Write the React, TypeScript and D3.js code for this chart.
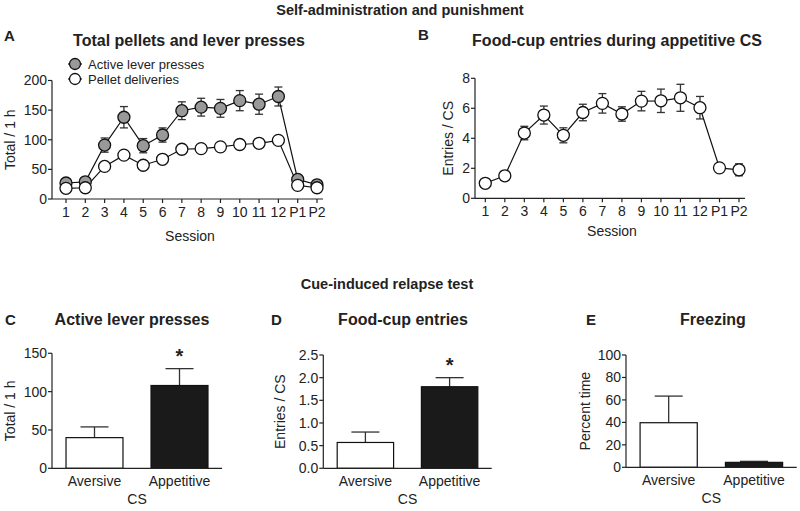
import React from "react";
import * as d3 from "d3";

const sessions = ["1","2","3","4","5","6","7","8","9","10","11","12","P1","P2"];
const leverMean = [27,29,91,138,90,108,149,155,153,166,160,173,33,24];
const leverErr  = [7,5,12,18,12,12,15,15,15,17,17,16,5,6];
const pelletMean = [18,19,55,74,57,67,84,85,88,92,94,99,23,19];
const pelletErr  = [3,3,4,7,4,4,3,3,3,3,3,3,3,3];
const entriesMean = [1.0,1.5,4.35,5.55,4.2,5.72,6.33,5.62,6.48,6.5,6.7,6.04,2.03,1.9];
const entriesErr  = [0.1,0.3,0.45,0.6,0.5,0.55,0.65,0.48,0.65,0.78,0.9,0.75,0.27,0.4];

const csCats = ["Aversive","Appetitive"];
const leverCS = [40,108];
const leverCSErr = [14,22];
const entriesCS = [0.57,1.8];
const entriesCSErr = [0.23,0.2];
const freezeCS = [39.7,4.4];
const freezeCSErr = [23.7,0.9];

const FONT = "Liberation Sans, Arial, Helvetica, sans-serif";
const TICK = 14;

function YAxis({ y, x, ticks, fmt }: any) {
  const [r0, r1] = y.range();
  return (
    <g>
      <line x1={x} x2={x} y1={r0} y2={r1} stroke="#222" strokeWidth={1.2} />
      {ticks.map((t: number) => (
        <g key={t}>
          <line x1={x - 4} x2={x} y1={y(t)} y2={y(t)} stroke="#222" strokeWidth={1.2} />
          <text x={x - 5} y={y(t)} dy="0.35em" textAnchor="end" fontSize={TICK} fill="#222">{fmt ? fmt(t) : t}</text>
        </g>
      ))}
    </g>
  );
}

function LinePanel({ x0, x1, xr0, xr1, yTop, yBot, domainMax, ticks, series, ylabel, ylabelX }: any) {
  const x = d3.scalePoint<string>().domain(sessions).range([xr0, xr1]);
  const y = d3.scaleLinear().domain([0, domainMax]).range([yBot, yTop]);
  const line = d3.line<number>().x((_, i) => x(sessions[i])!).y((d) => y(d));
  return (
    <g>
      <YAxis y={y} x={x0} ticks={ticks} />
      <line x1={x0} x2={x1} y1={yBot} y2={yBot} stroke="#222" strokeWidth={1.2} />
      {sessions.map((s) => (
        <g key={s}>
          <line x1={x(s)} x2={x(s)} y1={yBot} y2={yBot + 4} stroke="#222" strokeWidth={1.2} />
          <text x={x(s)} y={yBot + 18} textAnchor="middle" fontSize={TICK} fill="#222">{s}</text>
        </g>
      ))}
      <text transform={`translate(${ylabelX},${(yTop + yBot) / 2}) rotate(-90)`} textAnchor="middle" fontSize={TICK} fill="#222">{ylabel}</text>
      {series.map((sr: any, si: number) => (
        <g key={si}>
          {sr.mean.map((m: number, i: number) => {
            const cx = x(sessions[i])!;
            const e = sr.err[i];
            return (
              <g key={i} stroke="#333" strokeWidth={1.3}>
                <line x1={cx} x2={cx} y1={y(m - e)} y2={y(m + e)} />
                <line x1={cx - 4} x2={cx + 4} y1={y(m + e)} y2={y(m + e)} />
                <line x1={cx - 4} x2={cx + 4} y1={y(m - e)} y2={y(m - e)} />
              </g>
            );
          })}
          <path d={line(sr.mean)!} fill="none" stroke="#111" strokeWidth={1.2} />
        </g>
      ))}
      {series.map((sr: any, si: number) => (
        <g key={"c" + si}>
          {sr.mean.map((m: number, i: number) => (
            <circle key={i} cx={x(sessions[i])} cy={y(m)} r={6} fill={sr.fill} stroke="#111" strokeWidth={1.3} />
          ))}
        </g>
      ))}
    </g>
  );
}

function BarPanel({ x0, x1, yTop, yBot, domainMax, ticks, fmt, values, errs, ylabel, ylabelX, star }: any) {
  const x = d3.scaleBand<string>().domain(csCats).range([x0, x1]).paddingInner(0.33).paddingOuter(0.165);
  const y = d3.scaleLinear().domain([0, domainMax]).range([yBot, yTop]);
  const fills = ["#fff", "#1a1a1a"];
  return (
    <g>
      {csCats.map((c, i) => {
        const bx = x(c)!;
        const cx = bx + x.bandwidth() / 2;
        return (
          <g key={c}>
            <line x1={cx} x2={cx} y1={y(values[i])} y2={y(values[i] + errs[i])} stroke="#333" strokeWidth={1.3} />
            <line x1={cx - 14} x2={cx + 14} y1={y(values[i] + errs[i])} y2={y(values[i] + errs[i])} stroke="#333" strokeWidth={1.3} />
            <rect x={bx} y={y(values[i])} width={x.bandwidth()} height={yBot - y(values[i])} fill={fills[i]} stroke="#111" strokeWidth={1.2} />
            <text x={cx} y={yBot + 18} textAnchor="middle" fontSize={TICK} fill="#222">{c}</text>
            {star && i === 1 && (
              <text x={cx} y={y(values[i] + errs[i]) - 6} textAnchor="middle" fontSize={20} fontWeight="bold" fill="#222">*</text>
            )}
          </g>
        );
      })}
      <YAxis y={y} x={x0} ticks={ticks} fmt={fmt} />
      <line x1={x0} x2={x1} y1={yBot} y2={yBot} stroke="#222" strokeWidth={1.2} />
      <text x={(x0 + x1) / 2} y={yBot + 36} textAnchor="middle" fontSize={TICK} fill="#222">CS</text>
      <text transform={`translate(${ylabelX},${(yTop + yBot) / 2}) rotate(-90)`} textAnchor="middle" fontSize={TICK} fill="#222">{ylabel}</text>
    </g>
  );
}

export default function App() {
  return (
    <svg width={800} height={511} style={{ position: "absolute", left: 0, top: 0, background: "#fff" }} fontFamily={FONT}>
      <rect width={800} height={511} fill="#fff" />
      <text x={400} y={15} textAnchor="middle" fontSize={14.5} fontWeight="bold" fill="#222">Self-administration and punishment</text>
      <text x={387} y={289} textAnchor="middle" fontSize={14.5} fontWeight="bold" fill="#222">Cue-induced relapse test</text>

      {/* Panel A */}
      <text x={4} y={41} fontSize={15} fontWeight="bold" fill="#222">A</text>
      <text x={189} y={46} textAnchor="middle" fontSize={16} fontWeight="bold" fill="#222">Total pellets and lever presses</text>
      <line x1={68} x2={82} y1={64} y2={64} stroke="#111" strokeWidth={1.2} />
      <circle cx={75} cy={64} r={5.5} fill="#999" stroke="#111" strokeWidth={1.3} />
      <text x={88} y={64} dy="0.35em" fontSize={13} fill="#222">Active lever presses</text>
      <line x1={68} x2={82} y1={79} y2={79} stroke="#111" strokeWidth={1.2} />
      <circle cx={75} cy={79} r={5.5} fill="#fff" stroke="#111" strokeWidth={1.3} />
      <text x={88} y={79} dy="0.35em" fontSize={13} fill="#222">Pellet deliveries</text>
      <LinePanel x0={52} x1={323} xr0={66} xr1={317} yTop={80.5} yBot={199} domainMax={200} ticks={[0,50,100,150,200]}
        ylabel="Total / 1 h" ylabelX={15}
        series={[{ mean: leverMean, err: leverErr, fill: "#999" }, { mean: pelletMean, err: pelletErr, fill: "#fff" }]} />
      <text x={190} y={241} textAnchor="middle" fontSize={TICK} fill="#222">Session</text>

      {/* Panel B */}
      <text x={418} y={40} fontSize={15} fontWeight="bold" fill="#222">B</text>
      <text x={617} y={46} textAnchor="middle" fontSize={16} fontWeight="bold" fill="#222">Food-cup entries during appetitive CS</text>
      <LinePanel x0={475} x1={745} xr0={485.3} xr1={739} yTop={78.3} yBot={198.3} domainMax={8} ticks={[0,2,4,6,8]}
        ylabel="Entries / CS" ylabelX={453}
        series={[{ mean: entriesMean, err: entriesErr, fill: "#fff" }]} />
      <text x={612} y={236} textAnchor="middle" fontSize={TICK} fill="#222">Session</text>

      {/* Panel C */}
      <text x={5} y={325} fontSize={15} fontWeight="bold" fill="#222">C</text>
      <text x={132} y={325} textAnchor="middle" fontSize={16} fontWeight="bold" fill="#222">Active lever presses</text>
      <BarPanel x0={52} x1={222} yTop={353.3} yBot={468.3} domainMax={150} ticks={[0,50,100,150]}
        values={leverCS} errs={leverCSErr} ylabel="Total / 1 h" ylabelX={15} star />

      {/* Panel D */}
      <text x={271} y={325} fontSize={15} fontWeight="bold" fill="#222">D</text>
      <text x={403} y={325} textAnchor="middle" fontSize={16} fontWeight="bold" fill="#222">Food-cup entries</text>
      <BarPanel x0={323.3} x1={491.7} yTop={355} yBot={468.3} domainMax={2.5} ticks={[0,0.5,1,1.5,2,2.5]} fmt={(t: number) => t.toFixed(1)}
        values={entriesCS} errs={entriesCSErr} ylabel="Entries / CS" ylabelX={285} star />

      {/* Panel E */}
      <text x={586} y={325} fontSize={15} fontWeight="bold" fill="#222">E</text>
      <text x={713} y={325} textAnchor="middle" fontSize={16} fontWeight="bold" fill="#222">Freezing</text>
      <BarPanel x0={626} x1={796.7} yTop={355} yBot={467.3} domainMax={100} ticks={[0,20,40,60,80,100]}
        values={freezeCS} errs={freezeCSErr} ylabel="Percent time" ylabelX={590} />
    </svg>
  );
}
